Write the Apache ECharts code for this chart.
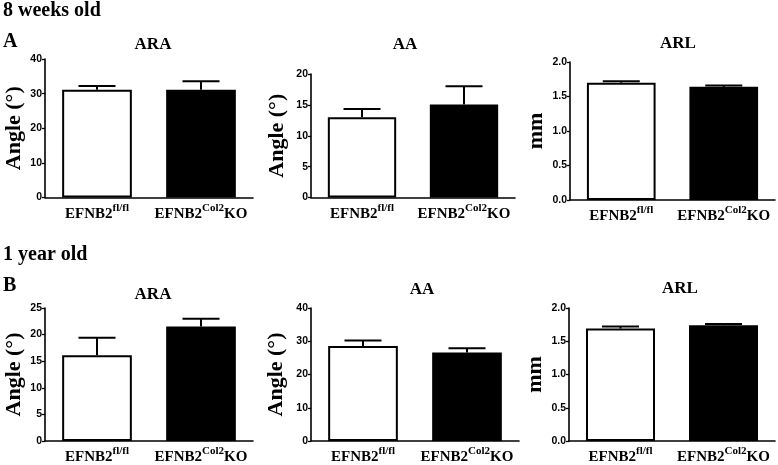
<!DOCTYPE html>
<html>
<head>
<meta charset="utf-8">
<script src="https://cdn.jsdelivr.net/npm/echarts@6/dist/echarts.min.js"></script>
<style>
html,body{margin:0;padding:0;background:#fff;}
#c{width:778px;height:465px;}
</style>
</head>
<body>
<div id="c"></div>
<script>
// ---- data ----
var categories = ['EFNB2fl/fl', 'EFNB2Col2KO'];
var catBase = ['EFNB2', 'EFNB2'];
var catSup = ['fl/fl', 'Col2'];
var catSuffix = ['', 'KO'];

var panelTitles = ['ARA', 'AA', 'ARL', 'ARA', 'AA', 'ARL'];
var yNames = ['Angle (°)', 'Angle (°)', 'mm', 'Angle (°)', 'Angle (°)', 'mm'];

// 8 weeks old
var ara8Mean = [31.1, 31.1];
var ara8Err = [1.1, 2.5];
var aa8Mean = [13.0, 15.05];
var aa8Err = [1.35, 2.95];
var arl8Mean = [1.70, 1.64];
var arl8Err = [0.02, 0.02];
// 1 year old
var ara1Mean = [16.1, 21.5];
var ara1Err = [3.3, 1.5];
var aa1Mean = [28.6, 26.6];
var aa1Err = [1.6, 1.3];
var arl1Mean = [1.69, 1.74];
var arl1Err = [0.03, 0.02];

// y axis ticks
var yMax = [40, 20, 2.0, 25, 40, 2.0];
var yInterval = [10, 5, 0.5, 5, 10, 0.5];
var yDecimals = [0, 0, 1, 0, 0, 1];

var means = [ara8Mean, aa8Mean, arl8Mean, ara1Mean, aa1Mean, arl1Mean];
var errs = [ara8Err, aa8Err, arl8Err, ara1Err, aa1Err, arl1Err];

// ---- layout ----
var grids = [
  {left: 45, top: 59, width: 208, height: 138.5},
  {left: 311, top: 74, width: 204, height: 123.5},
  {left: 570, top: 62, width: 205, height: 138},
  {left: 45, top: 308, width: 208, height: 135.5},
  {left: 311, top: 308, width: 208, height: 136},
  {left: 569, top: 308, width: 206, height: 136}
];
var titlePos = [[148, 31], [400, 31], [673, 30], [148, 281], [417, 276], [675, 275]];
var nameGaps = [20, 23, 23, 20, 24, 23];

var SERIF = 'Liberation Serif';
var SANS = 'Liberation Sans';

var option = {
  backgroundColor: '#fff',
  animation: false,
  title: [],
  grid: [],
  xAxis: [],
  yAxis: [],
  series: [],
  graphic: [
    {type: 'text', left: 3, top: 1, style: {text: '8 weeks old', font: 'bold 20px "Liberation Serif"', fill: '#000'}},
    {type: 'text', left: 3, top: 32, style: {text: 'A', font: 'bold 20px "Liberation Serif"', fill: '#000'}},
    {type: 'text', left: 3, top: 245, style: {text: '1 year old', font: 'bold 20px "Liberation Serif"', fill: '#000'}},
    {type: 'text', left: 3, top: 276, style: {text: 'B', font: 'bold 20px "Liberation Serif"', fill: '#000'}}
  ]
};

for (var i = 0; i < 6; i++) {
  (function (i) {
    var g = grids[i];
    option.grid.push({left: g.left, top: g.top, width: g.width, height: g.height, containLabel: false});
    option.title.push({
      text: panelTitles[i], left: titlePos[i][0], top: titlePos[i][1], textAlign: 'center',
      textStyle: {fontFamily: SERIF, fontWeight: 'bold', fontSize: 17, color: '#000'}
    });
    option.xAxis.push({
      type: 'category', gridIndex: i, data: categories, boundaryGap: true,
      axisLine: {lineStyle: {color: '#000', width: 1.6}},
      axisTick: {alignWithLabel: true, length: 3, lineStyle: {color: '#000', width: 1.3}},
      axisLabel: {
        margin: 5, interval: 0,
        formatter: function (v, idx) {
          return '{b|' + catBase[idx] + '}{s|' + catSup[idx] + '}' + (catSuffix[idx] ? '{b|' + catSuffix[idx] + '}' : '');
        },
        rich: {
          b: {fontFamily: SERIF, fontWeight: 'bold', fontSize: 15, lineHeight: 19, color: '#000', verticalAlign: 'bottom'},
          s: {fontFamily: SERIF, fontWeight: 'bold', fontSize: 11, lineHeight: 12, color: '#000', verticalAlign: 'top'}
        }
      },
      splitLine: {show: false}
    });
    var dec = yDecimals[i];
    option.yAxis.push({
      type: 'value', gridIndex: i, min: 0, max: yMax[i], interval: yInterval[i],
      name: yNames[i], nameLocation: 'middle', nameGap: nameGaps[i],
      nameTextStyle: {fontFamily: SERIF, fontWeight: 'bold', fontSize: 22, color: '#000'},
      axisLine: {show: true, lineStyle: {color: '#000', width: 1.6}},
      axisTick: {show: true, length: 3, lineStyle: {color: '#000', width: 1.3}},
      axisLabel: {
        margin: 3, color: '#000', fontFamily: SANS, fontWeight: 'bold', fontSize: 10.5,
        formatter: function (v) { return v.toFixed(dec); }
      },
      splitLine: {show: false}
    });
    var m = means[i];
    option.series.push({
      type: 'bar', xAxisIndex: i, yAxisIndex: i, barWidth: '67%',
      data: [
        {value: m[0], itemStyle: {color: '#fff', borderColor: '#000', borderWidth: 2}},
        {value: m[1], itemStyle: {color: '#000', borderColor: '#000', borderWidth: 2}}
      ],
      z: 2
    });
    var e = errs[i];
    option.series.push({
      type: 'custom', xAxisIndex: i, yAxisIndex: i, z: 3,
      data: [[0, m[0], m[0] + e[0]], [1, m[1], m[1] + e[1]]],
      encode: {x: 0, y: [1, 2]},
      renderItem: function (params, api) {
        var x = api.value(0);
        var lo = api.coord([x, api.value(1)]);
        var hi = api.coord([x, api.value(2)]);
        var hw = 18.5;
        var st = {stroke: '#000', lineWidth: 2, fill: null};
        return {
          type: 'group',
          children: [
            {type: 'line', shape: {x1: lo[0], y1: lo[1], x2: hi[0], y2: hi[1]}, style: st},
            {type: 'line', shape: {x1: hi[0] - hw, y1: hi[1], x2: hi[0] + hw, y2: hi[1]}, style: st}
          ]
        };
      }
    });
  })(i);
}

var chart = echarts.init(document.getElementById('c'), null, {renderer: 'canvas'});
chart.setOption(option);
</script>
</body>
</html>
